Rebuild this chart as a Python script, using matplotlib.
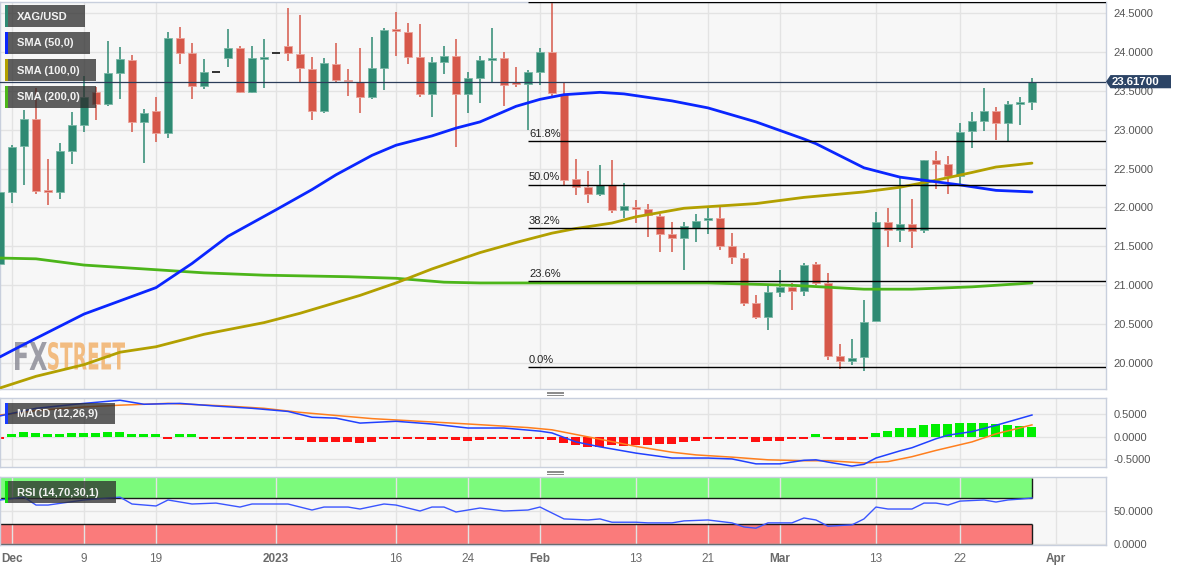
import numpy as np
import pandas as pd
import matplotlib
matplotlib.use("Agg")
import matplotlib.pyplot as plt
import matplotlib.transforms as mtransforms
from matplotlib.patches import Rectangle, Polygon, PathPatch
from matplotlib.textpath import TextPath
from matplotlib.font_manager import FontProperties
from matplotlib.lines import Line2D

plt.rcParams['font.family'] = ['Liberation Sans', 'DejaVu Sans']

# ---------------- data ----------------
dates = pd.bdate_range("2022-11-30", "2023-03-30")

opens = [21.27, 22.20, 22.79, 23.14, 22.21, 22.20, 22.73, 23.06, 23.48, 23.33, 23.73, 23.90, 23.10, 23.24, 22.96,
         24.18, 23.99, 23.56, 23.74, 23.92, 24.05, 23.48, 23.91, 23.99, 24.08, 23.97, 23.78, 23.24, 23.84, 23.64,
         23.61, 23.42, 23.79, 24.28, 24.26, 23.93, 23.46, 23.87, 23.95, 23.46, 23.66, 23.90, 23.92, 23.60, 23.59,
         23.74, 24.00, 23.46, 22.37, 22.26, 22.17, 22.29, 21.97, 22.01, 21.98, 21.89, 21.66, 21.61, 21.74, 21.84,
         21.86, 21.50, 21.35, 20.77, 20.59, 20.91, 20.98, 20.93, 21.27, 21.03, 20.09, 20.03, 20.08, 20.54, 21.81,
         21.71, 21.79, 21.71, 22.61, 22.56, 22.40, 22.98, 23.11, 23.24, 23.09, 23.33, 23.36]
highs = [22.22, 22.80, 23.25, 23.54, 22.62, 22.83, 23.23, 23.69, 23.55, 24.14, 24.06, 23.96, 23.27, 23.42, 24.26,
         24.32, 24.11, 23.91, 23.74, 24.29, 24.08, 24.08, 24.17, 23.99, 24.56, 24.47, 23.93, 23.92, 24.11, 23.78,
         24.05, 24.19, 24.31, 24.51, 24.37, 24.36, 23.93, 24.08, 24.17, 23.74, 23.95, 24.31, 24.00, 23.81, 23.77,
         24.05, 24.64, 23.61, 22.62, 22.47, 22.55, 22.61, 22.31, 22.10, 22.05, 21.92, 21.81, 21.81, 21.92, 22.00,
         22.00, 21.67, 21.42, 20.88, 21.00, 21.20, 21.03, 21.29, 21.30, 21.16, 20.25, 20.31, 20.81, 21.94, 21.99,
         22.39, 22.11, 22.61, 22.73, 22.66, 23.09, 23.23, 23.54, 23.29, 23.37, 23.42, 23.66]
lows = [21.22, 22.06, 22.29, 22.17, 22.03, 22.11, 22.56, 22.97, 23.12, 23.30, 23.39, 22.97, 22.57, 22.84, 22.89,
        23.84, 23.39, 23.52, 23.74, 23.81, 23.47, 23.47, 23.54, 23.99, 23.88, 23.60, 23.12, 23.21, 23.60, 23.43,
        23.21, 23.39, 23.51, 23.95, 23.84, 23.42, 23.16, 23.72, 22.78, 23.21, 23.34, 23.61, 23.30, 23.55, 23.00,
        23.57, 23.42, 22.29, 22.16, 22.06, 22.15, 21.93, 21.86, 21.80, 21.62, 21.43, 21.43, 21.20, 21.56, 21.66,
        21.45, 21.27, 20.73, 20.57, 20.43, 20.85, 20.68, 20.86, 21.00, 20.04, 19.92, 19.98, 19.90, 20.54, 21.49,
        21.56, 21.48, 21.67, 22.24, 22.17, 22.29, 22.76, 22.98, 22.87, 22.84, 23.06, 23.25]
closes = [22.20, 22.78, 23.14, 22.21, 22.20, 22.73, 23.06, 23.42, 23.33, 23.73, 23.91, 23.10, 23.21, 22.96, 24.18,
          23.99, 23.56, 23.74, 23.74, 24.05, 23.48, 23.92, 23.93, 23.99, 23.99, 23.79, 23.24, 23.86, 23.64, 23.62,
          23.42, 23.79, 24.28, 24.27, 23.93, 23.46, 23.87, 23.95, 23.46, 23.66, 23.90, 23.91, 23.57, 23.59, 23.74,
          24.00, 23.47, 22.35, 22.26, 22.17, 22.29, 21.97, 22.02, 21.98, 21.90, 21.66, 21.61, 21.76, 21.83, 21.86,
          21.50, 21.36, 20.77, 20.59, 20.91, 20.98, 20.93, 21.26, 21.03, 20.09, 20.03, 20.07, 20.53, 21.81, 21.71,
          21.79, 21.70, 22.61, 22.56, 22.40, 22.97, 23.11, 23.24, 23.09, 23.33, 23.35, 23.617]
last_price = 23.617

sma50_idx = [-1, 1, 6, 12, 15, 18, 22, 25, 27, 30, 32, 35, 37, 39, 42, 44, 46, 49, 51, 55, 58, 62, 66, 67, 71, 74, 77, 79, 82, 85]
sma50_val = [20.08, 20.24, 20.63, 20.97, 21.28, 21.63, 21.97, 22.23, 22.42, 22.67, 22.80, 22.92, 23.02, 23.10, 23.30,
             23.39, 23.45, 23.48, 23.46, 23.37, 23.28, 23.10, 22.88, 22.82, 22.51, 22.39, 22.33, 22.29, 22.22, 22.20]
sma100_idx = [-1, 2, 6, 9, 12, 16, 21, 24, 29, 32, 35, 39, 42, 45, 47, 50, 52, 56, 58, 62, 66, 71, 74, 77, 80, 82, 85]
sma100_val = [19.68, 19.83, 19.98, 20.14, 20.21, 20.37, 20.52, 20.64, 20.87, 21.03, 21.21, 21.42, 21.55, 21.67, 21.73,
              21.80, 21.88, 21.99, 22.01, 22.05, 22.13, 22.20, 22.26, 22.35, 22.45, 22.52, 22.57]
sma200_idx = [-1, 2, 6, 12, 16, 21, 28, 32, 36, 39, 47, 58, 65, 71, 75, 80, 85]
sma200_val = [21.35, 21.34, 21.26, 21.20, 21.16, 21.13, 21.11, 21.09, 21.04, 21.03, 21.03, 21.03, 21.00, 20.95, 20.95,
              20.98, 21.03]

fib_high = 24.64
fib_low = 19.95
fib_ratios = [0.0, 0.236, 0.382, 0.5, 0.618, 1.0]

macd_hist = [-0.01, 0.04, 0.10, 0.07, 0.05, 0.06, 0.07, 0.09, 0.09, 0.10, 0.10, 0.06, 0.03, 0.02, -0.01,
             0.02, 0.02, -0.01, -0.01, -0.02, -0.04, -0.05, -0.05, -0.05, -0.05, -0.08, -0.12, -0.12, -0.13, -0.13,
             -0.14, -0.12, -0.06, -0.05, -0.05, -0.06, -0.08, -0.06, -0.08, -0.10, -0.07, -0.06, -0.05, -0.05, -0.05,
             -0.04, -0.07, -0.15, -0.20, -0.23, -0.23, -0.20, -0.22, -0.20, -0.18, -0.17, -0.16, -0.13, -0.11, -0.05,
             -0.04, -0.05, -0.06, -0.12, -0.10, -0.09, -0.06, -0.02, 0.02, -0.04, -0.07, -0.07, -0.04, 0.07, 0.13,
             0.18, 0.20, 0.26, 0.28, 0.27, 0.30, 0.30, 0.30, 0.27, 0.25, 0.23, 0.21]
macd_idx = [-1, 2, 6, 9, 11, 14, 17, 20, 23, 25, 27, 29, 32, 35, 38, 41, 44, 45, 47, 49, 52, 55, 58, 60, 62, 64, 66,
            67, 68, 70, 71, 72, 74, 75, 77, 78, 80, 82, 85]
macd_val = [0.46, 0.63, 0.74, 0.81, 0.72, 0.74, 0.68, 0.63, 0.56, 0.43, 0.41, 0.30, 0.34, 0.28, 0.19, 0.19, 0.12, 0.08,
            -0.12, -0.23, -0.37, -0.48, -0.48, -0.50, -0.61, -0.61, -0.53, -0.52, -0.57, -0.66, -0.62, -0.48, -0.32,
            -0.25, -0.05, 0.03, 0.11, 0.25, 0.48]
signal_idx = [-1, 2, 6, 9, 13, 18, 21, 24, 27, 30, 32, 38, 43, 45, 49, 52, 55, 57, 60, 63, 66, 68, 71, 73, 75, 77, 80, 82, 85]
signal_val = [0.48, 0.58, 0.66, 0.70, 0.74, 0.68, 0.63, 0.54, 0.47, 0.40, 0.37, 0.28, 0.20, 0.15, -0.06, -0.22, -0.35,
              -0.41, -0.46, -0.52, -0.54, -0.54, -0.59, -0.56, -0.45, -0.31, -0.12, 0.06, 0.26]

rsi_idx = [-1, 1, 2, 3, 6, 9, 10, 12, 13, 15, 17, 19, 20, 23, 25, 26, 28, 29, 31, 32, 34, 35, 36, 37, 39, 41, 43, 44,
           46, 48, 49, 50, 52, 53, 55, 56, 58, 60, 61, 62, 63, 65, 66, 67, 68, 70, 71, 72, 73, 75, 76, 77, 78, 79, 81,
           82, 83, 84, 85]
rsi_val = [66.7, 71.0, 59.0, 59.0, 66.7, 71.0, 60.6, 57.6, 66.7, 60.6, 62.0, 56.0, 60.6, 60.6, 51.5, 56.0, 56.0, 53.0,
           60.6, 59.0, 50.0, 56.0, 56.0, 48.5, 54.5, 50.0, 51.5, 56.0, 38.0, 36.4, 38.0, 33.0, 33.0, 32.0, 32.0, 35.0,
           36.4, 32.0, 25.8, 24.0, 32.0, 32.0, 39.4, 36.4, 27.0, 29.0, 38.0, 56.0, 53.0, 53.0, 62.0, 62.0, 59.0, 65.0,
           66.7, 63.6, 66.7, 68.0, 69.7]

tick_dates = ["2022-12-01", "2022-12-09", "2022-12-19", "2023-01-02", "2023-01-16", "2023-01-24", "2023-02-01",
              "2023-02-13", "2023-02-21", "2023-03-01", "2023-03-13", "2023-03-22", "2023-04-03"]
tick_labels = ["Dec", "9", "19", "2023", "16", "24", "Feb", "13", "21", "Mar", "13", "22", "Apr"]
tick_bold = [True, False, False, True, False, False, True, False, False, True, False, False, True]

price_ticks = [20.0, 20.5, 21.0, 21.5, 22.0, 22.5, 23.0, 23.5, 24.0, 24.5]
macd_ticks = [0.5, 0.0, -0.5]
rsi_ticks = [50, 0]

# ---------------- figure ----------------
W, H = 1182, 571
fig = plt.figure(figsize=(W / 100, H / 100), dpi=100)
fig.patch.set_facecolor('white')
T_px = mtransforms.Affine2D().scale(1.0 / W, -1.0 / H).translate(0, 1) + fig.transFigure


def add_axes_px(x0, y0, x1, y1):
    return fig.add_axes([x0 / W, 1 - y1 / H, (x1 - x0) / W, (y1 - y0) / H])


MAIN = (0, 2, 1106, 389)
ax = add_axes_px(*MAIN)
axm = add_axes_px(0, 398, 1106, 467)
axr = add_axes_px(0, 477, 1106, 545)

idx = np.arange(len(dates)) - 1
all_days = pd.bdate_range("2022-11-30", "2023-04-14")
tick_pos = [all_days.get_loc(pd.Timestamp(d)) - 1 for d in tick_dates]
XMIN, XMAX = -1, 91.17

grid_c = '#e3e3e3'
spine_c = '#c8cfdd'
lab_c = '#555555'
for a in (ax, axm, axr):
    a.set_facecolor('#f7f7f7')
    a.set_xlim(XMIN, XMAX)
    a.set_xticks(tick_pos)
    a.grid(True, color=grid_c, lw=1)
    a.set_axisbelow(True)
    a.yaxis.tick_right()
    a.tick_params(axis='y', length=0, pad=5.5, labelsize=8, labelcolor=lab_c)
    a.tick_params(axis='x', length=0)
    for s in a.spines.values():
        s.set_color(spine_c)
        s.set_linewidth(1)
ax.set_xticklabels([])
axm.set_xticklabels([])

# ---- main price panel ----
o = np.array(opens); h = np.array(highs); l = np.array(lows); c = np.array(closes)
up_c, dn_c = '#2f8a73', '#d6584a'
up_e, dn_e = '#79b8a6', '#eba39a'
ymin, ymax = 19.667, 24.641
ax.set_ylim(ymin, ymax)
ax.set_yticks(price_ticks)
ax.set_yticklabels([f"{v:.4f}" for v in price_ticks])

is_up = c > o
is_dn = c < o
is_flat = c == o
wick_cols = np.where(is_up, up_c, np.where(is_dn, dn_c, '#222222'))
ax.vlines(idx[~is_flat], l[~is_flat], h[~is_flat], colors=wick_cols[~is_flat], lw=1.1, zorder=2)
body_b = np.minimum(o, c)
body_h = np.maximum(np.abs(c - o), 0.022)
sel = ~is_flat
ax.bar(idx[sel], body_h[sel], bottom=body_b[sel], width=0.72,
       color=np.where(is_up, up_c, dn_c)[sel], edgecolor=np.where(is_up, up_e, dn_e)[sel],
       linewidth=0.6, zorder=3)
ax.hlines(c[is_flat], idx[is_flat] - 0.36, idx[is_flat] + 0.36, colors='#222222', lw=1.3, zorder=3)

ax.plot(sma200_idx, sma200_val, color='#4cb51a', lw=2.0, zorder=4, solid_capstyle='round')
ax.plot(sma100_idx, sma100_val, color='#b2a000', lw=2.0, zorder=4, solid_capstyle='round')
ax.plot(sma50_idx, sma50_val, color='#0a26ff', lw=2.0, zorder=4, solid_capstyle='round')

# fibonacci retracement
fib_start = 43
for r in fib_ratios:
    lev = fib_low + r * (fib_high - fib_low)
    ax.hlines(lev, fib_start, XMAX, colors='black', lw=1, zorder=5)
    ax.annotate(f"{r * 100:.1f}%", (fib_start + 0.08, lev), xytext=(0, 1.5), textcoords='offset points',
                ha='left', va='bottom', fontsize=8, color='#222222', zorder=6, annotation_clip=False)

# current price line and label
ax.axhline(last_price, color='#2b3d5a', lw=0.9, zorder=5)
bt = mtransforms.blended_transform_factory(T_px, ax.transData)
dh = 6.6 * (ymax - ymin) / (MAIN[3] - MAIN[1])
poly = Polygon([(1106, last_price), (1110.5, last_price + dh), (1171, last_price + dh),
                (1171, last_price - dh), (1110.5, last_price - dh)], closed=True,
               transform=bt, facecolor='#2c4466', edgecolor='none', clip_on=False, zorder=10)
fig.add_artist(poly)
fig.text(1112 / W, 0, "23.61700", transform=bt, ha='left', va='center', fontsize=8.2,
         fontweight='bold', color='white', zorder=11).set_position((1112, last_price))

# watermark FXSTREET
fp = FontProperties(family='DejaVu Sans', weight='bold')
for txt, x0, x1, col in [("FX", 15, 47, '#8e8e98'), ("STREET", 48, 125, '#f2b26c')]:
    tp = TextPath((0, 0), txt, size=10, prop=fp)
    bb = tp.get_extents()
    sx = (x1 - x0) / bb.width
    sy = 28.0 / bb.height
    tr = mtransforms.Affine2D().translate(-bb.x0, -bb.y0).scale(sx, -sy).translate(x0, 370) + T_px
    ax.add_patch(PathPatch(tp, transform=tr, facecolor=col, edgecolor='none', alpha=0.85,
                           zorder=1, clip_on=False))

# ---- MACD panel ----
axm.set_ylim(-0.68, 0.86)
axm.set_yticks(macd_ticks)
axm.set_yticklabels([f"{v:.4f}" for v in macd_ticks])
hist = np.array(macd_hist)
hist_draw = np.where(hist >= 0, np.maximum(hist, 0.05), np.minimum(hist, -0.05))
axm.bar(idx, hist_draw, width=0.75, color=np.where(hist >= 0, '#00ee00', '#ff1010'), linewidth=0, zorder=2)
axm.plot(signal_idx, signal_val, color='#ff7f1e', lw=1.1, zorder=3)
axm.plot(macd_idx, macd_val, color='#2040ff', lw=1.1, zorder=4)

# ---- RSI panel ----
axr.set_ylim(-1.5, 101.5)
axr.set_yticks(rsi_ticks)
axr.set_yticklabels([f"{v:.4f}" for v in rsi_ticks])
axr.add_patch(Rectangle((XMIN - 1, 70), idx[-1] - XMIN + 1, 30, facecolor='#7cfa7c', edgecolor='none', zorder=0.4))
axr.add_patch(Rectangle((XMIN - 1, 0), idx[-1] - XMIN + 1, 30, facecolor='#fa7b7b', edgecolor='none', zorder=0.4))
axr.hlines([70, 30], XMIN, idx[-1], colors='#1a1a1a', lw=1, zorder=2)
axr.hlines([0], XMIN, idx[-1], colors='#555555', lw=1, zorder=2)
axr.vlines(idx[-1], 70, 100, colors='#1a1a1a', lw=1, zorder=2)
axr.vlines(idx[-1], 0, 30, colors='#1a1a1a', lw=1, zorder=2)
axr.plot(rsi_idx, rsi_val, color='#3a55ff', lw=1.0, zorder=3)
axr.set_xticklabels(tick_labels)
axr.tick_params(axis='x', pad=6, labelsize=8.5, labelcolor='#6a6a6a')
for t, b in zip(axr.get_xticklabels(), tick_bold):
    t.set_fontweight('bold' if b else 'normal')

# ---- legend boxes ----
def legend_box(x0, y0, x1, y1, label, col):
    fig.add_artist(Rectangle((x0, y0), x1 - x0, y1 - y0, transform=T_px, facecolor='#2b2b2b',
                             alpha=0.75, edgecolor='none', zorder=20))
    fig.add_artist(Rectangle((x0, y0), 2.6, y1 - y0, transform=T_px, facecolor=col,
                             edgecolor='none', zorder=21))
    fig.text(17 / W, 1 - ((y0 + y1) / 2 + 0.5) / H, label, ha='left', va='center', fontsize=8,
             fontweight='bold', color='#f2f2f2', zorder=22)


legend_box(5, 5, 85, 27, "XAG/USD", up_c)
legend_box(5, 32, 90, 54, "SMA (50,0)", '#0a26ff')
legend_box(5, 59, 96, 81, "SMA (100,0)", '#b2a000')
legend_box(5, 86, 96, 108, "SMA (200,0)", '#4cb51a')
legend_box(5, 403, 115, 424, "MACD (12,26,9)", '#1a3cff')
legend_box(5, 481, 116, 503, "RSI (14,70,30,1)", '#10dd10')

# panel handles
for yy in (393, 472):
    for dy in (-1.5, 0, 1.5):
        fig.add_artist(Line2D([547, 563], [yy + dy, yy + dy], transform=T_px, color='#8a8a8a', lw=0.7, zorder=20))

fig.savefig("out.png", dpi=100, facecolor='white')
